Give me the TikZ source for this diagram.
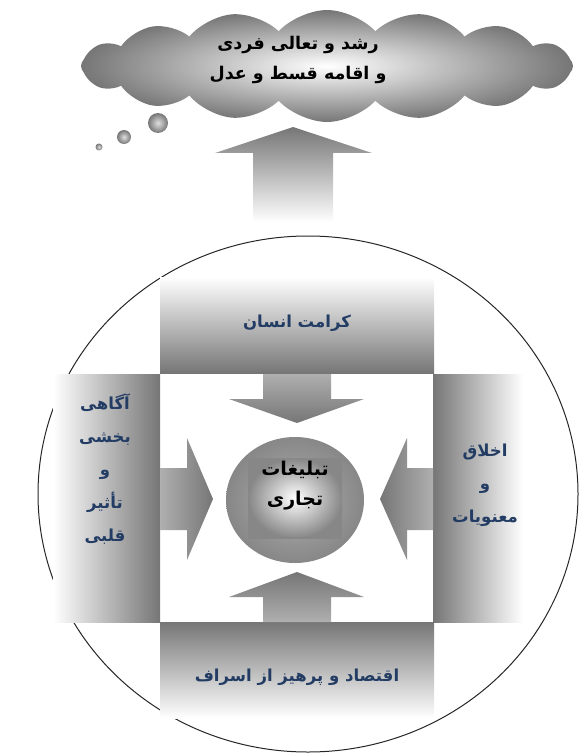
\documentclass[tikz,border=0pt]{standalone}
\usepackage{fontspec}
\TeXXeTstate=1
\newfontfamily\fa[Script=Arabic]{DejaVu Sans}
\usetikzlibrary{shapes.symbols,shapes.geometric}
\definecolor{dg}{RGB}{118,118,118}
\definecolor{mg}{RGB}{135,135,135}
\definecolor{lg}{RGB}{175,175,175}
\definecolor{txtblue}{RGB}{35,60,100}
\tikzset{
  sidetxt/.style={font=\fa\bfseries\fontsize{16.5}{33}\selectfont, text=txtblue, align=center, inner sep=0pt},
  bigtxt/.style={font=\fa\bfseries\fontsize{17.5}{30}\selectfont, text=black, align=center, inner sep=0pt},
  panel/.style={draw=none, inner sep=0pt},
  bubble/.style={circle, inner sep=0pt, inner color=gray!25, outer color=dg},
}
\begin{document}
\begin{tikzpicture}[x=1pt,y=-1pt]
\useasboundingbox (0,0) rectangle (580,754);
% cloud
\node[cloud, cloud puffs=16, cloud puff arc=95, aspect=4.6, minimum width=492pt, minimum height=112pt, inner color=white, outer color=dg] (cloud) at (327,66) {};
\node[bigtxt] (cloudtxt) at (298,60) {\beginR رشد و تعالی فردی\endR\\ \beginR و اقامه قسط و عدل\endR};
\node[bubble, minimum size=20pt] (b1) at (158,123) {};
\node[bubble, minimum size=14pt] (b2) at (124,137) {};
\node[bubble, minimum size=7pt] (b3) at (99,147) {};
% up arrow
\path[top color=dg, bottom color=white] (253,222) -- (253,153) -- (215,153) -- (293,127) -- (372,153) -- (333,153) -- (333,222) -- cycle;
% big ellipse
\draw[line width=1pt, black!85] (308,494) ellipse [x radius=270, y radius=258];
% panels
\node[panel, minimum width=274pt, minimum height=96pt, top color=white, bottom color=dg] (top) at (297,325) {};
\node[panel, minimum width=274pt, minimum height=96pt, top color=dg, bottom color=white] (bot) at (297,670) {};
\node[panel, minimum width=107pt, minimum height=248pt, left color=white, right color=dg] (left) at (106.5,498) {};
\node[panel, minimum width=90pt, minimum height=248pt, left color=dg, right color=white] (right) at (478,498) {};
\node[sidetxt] (toptxt) at (297,323) {\beginR کرامت انسان\endR};
\node[sidetxt] (bottxt) at (297,677) {\beginR اقتصاد و پرهیز از اسراف\endR};
\node[sidetxt] (lefttxt) at (105,469) {\beginR آگاهی\endR\\ \beginR بخشی\endR\\ \beginR و\endR\\ \beginR تأثیر\endR\\ \beginR قلبی\endR};
\node[sidetxt] (righttxt) at (485,485) {\beginR اخلاق\endR\\ \beginR و\endR\\ \beginR معنویات\endR};
% inner arrows
\path[top color=lg, bottom color=dg] (263,374) -- (331,374) -- (331,399) -- (364,399) -- (297,423) -- (229,399) -- (263,399) -- cycle;
\path[top color=dg, bottom color=lg] (263,622) -- (331,622) -- (331,597) -- (364,597) -- (297,572) -- (229,597) -- (263,597) -- cycle;
\path[left color=lg, right color=dg] (160,468) -- (187,468) -- (187,438) -- (213,499) -- (187,560) -- (187,530) -- (160,530) -- cycle;
\path[left color=dg, right color=lg] (433,468) -- (407,468) -- (407,438) -- (380,499) -- (407,560) -- (407,530) -- (433,530) -- cycle;
% center
\node[ellipse, minimum width=138pt, minimum height=126pt, inner color=lg, outer color=mg] (center) at (295,500) {};
\node[minimum width=94pt, minimum height=80pt, inner sep=0pt, inner color=white, outer color=mg] (sq) at (295,498) {};
\node[bigtxt, font=\fa\bfseries\fontsize{19}{30}\selectfont] (ctxt) at (295,486) {\beginR تبلیغات\endR\\ \beginR تجاری\endR};
\end{tikzpicture}
\end{document}
